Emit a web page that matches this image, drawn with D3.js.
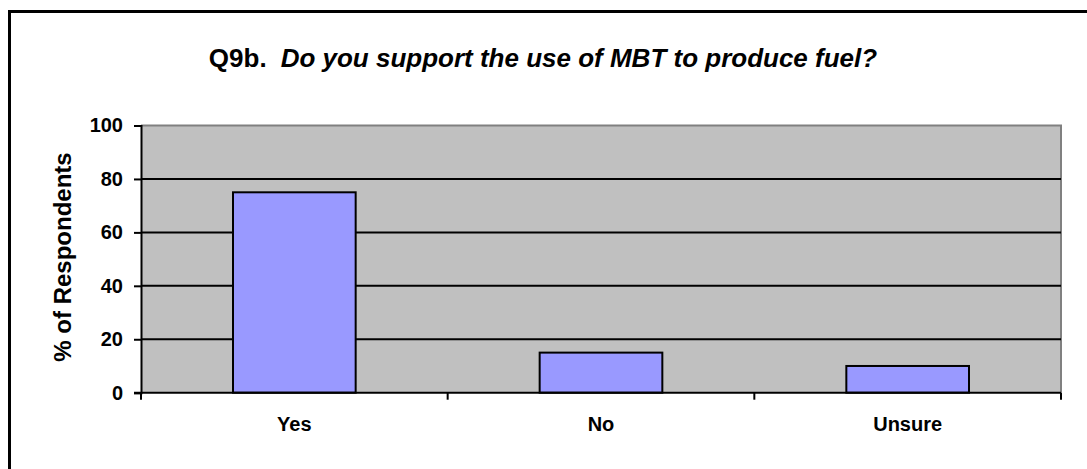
<!DOCTYPE html>
<html>
<head>
<meta charset="utf-8">
<script src="https://cdn.jsdelivr.net/npm/d3@7"></script>
<style>
  html, body { margin: 0; padding: 0; background: #fff; }
  svg { display: block; font-family: Arial, "Liberation Sans", sans-serif; }
</style>
</head>
<body>
<svg id="chart" width="1087" height="469"></svg>
<script>
// Survey answers, percent of respondents
const categories = ["Yes", "No", "Unsure"];
const values = [75, 15, 10];
const yTicks = [0, 20, 40, 60, 80, 100];
const titlePrefix = "Q9b.";
const titleQuestion = "Do you support the use of MBT to produce fuel?";
const yAxisTitle = "% of Respondents";

const svg = d3.select("#chart");
const plot = { left: 141, right: 1061, top: 125.5, bottom: 392.7 };

// Outer chart frame (only its top and left edges fall inside the view)
svg.append("rect")
  .attr("x", 9.5).attr("y", 11.5)
  .attr("width", 1200).attr("height", 600)
  .attr("fill", "none").attr("stroke", "#000").attr("stroke-width", 3);

const x = d3.scaleBand().domain(categories)
  .range([plot.left, plot.right]).paddingInner(0.6).paddingOuter(0.3);
const y = d3.scaleLinear().domain([0, 100]).range([plot.bottom, plot.top]);

// Plot background
svg.append("rect")
  .attr("x", plot.left).attr("y", plot.top)
  .attr("width", plot.right - plot.left).attr("height", plot.bottom - plot.top)
  .attr("fill", "#c0c0c0");

// Gray frame on top and right of the plot area
svg.append("path")
  .attr("d", `M${plot.left},${plot.top}H${plot.right}V${plot.bottom}`)
  .attr("fill", "none").attr("stroke", "#808080").attr("stroke-width", 2);

// Horizontal gridlines
svg.append("g").selectAll("line")
  .data(yTicks.filter(t => t > 0 && t < 100))
  .join("line")
  .attr("x1", plot.left).attr("x2", plot.right)
  .attr("y1", d => y(d)).attr("y2", d => y(d))
  .attr("stroke", "#000").attr("stroke-width", 2);

// Bars
svg.append("g").selectAll("rect")
  .data(categories.map((c, i) => ({ c, v: values[i] })))
  .join("rect")
  .attr("x", d => x(d.c))
  .attr("y", d => y(d.v))
  .attr("width", x.bandwidth())
  .attr("height", d => y(0) - y(d.v))
  .attr("fill", "#9999ff")
  .attr("stroke", "#000").attr("stroke-width", 2);

// Y axis
const yAxis = svg.append("g")
  .attr("transform", `translate(${plot.left},0)`)
  .call(d3.axisLeft(y).tickValues(yTicks).tickSize(7).tickPadding(11));
yAxis.select(".domain").attr("stroke", "#000").attr("stroke-width", 2);
yAxis.selectAll(".tick line").attr("stroke", "#000").attr("stroke-width", 2);
yAxis.selectAll(".tick text")
  .attr("font-size", 20).attr("font-weight", "bold").attr("fill", "#000")
  .attr("font-family", "Arial, 'Liberation Sans', sans-serif");

// X axis: ticks sit on category boundaries, labels at category centers
const boundaries = d3.range(categories.length + 1).map(i => plot.left + i * (plot.right - plot.left) / categories.length);
svg.append("line")
  .attr("x1", plot.left - 7).attr("x2", plot.right)
  .attr("y1", plot.bottom).attr("y2", plot.bottom)
  .attr("stroke", "#000").attr("stroke-width", 2);
svg.append("g").selectAll("line")
  .data(boundaries)
  .join("line")
  .attr("x1", d => d).attr("x2", d => d)
  .attr("y1", plot.bottom).attr("y2", plot.bottom + 7)
  .attr("stroke", "#000").attr("stroke-width", 2);
svg.append("g").selectAll("text")
  .data(categories)
  .join("text")
  .attr("x", d => x(d) + x.bandwidth() / 2)
  .attr("y", 431)
  .attr("text-anchor", "middle")
  .attr("font-size", 20).attr("font-weight", "bold")
  .text(d => d);

// Y axis title
svg.append("text")
  .attr("transform", "translate(71,257) rotate(-90)")
  .attr("text-anchor", "middle")
  .attr("font-size", 24).attr("font-weight", "bold")
  .text(yAxisTitle);

// Chart title
const title = svg.append("text")
  .attr("x", 543).attr("y", 67)
  .attr("text-anchor", "middle")
  .attr("font-size", 26).attr("font-weight", "bold");
title.append("tspan").text(titlePrefix);
title.append("tspan").attr("dx", 14).attr("font-style", "italic").text(titleQuestion);
</script>
</body>
</html>
